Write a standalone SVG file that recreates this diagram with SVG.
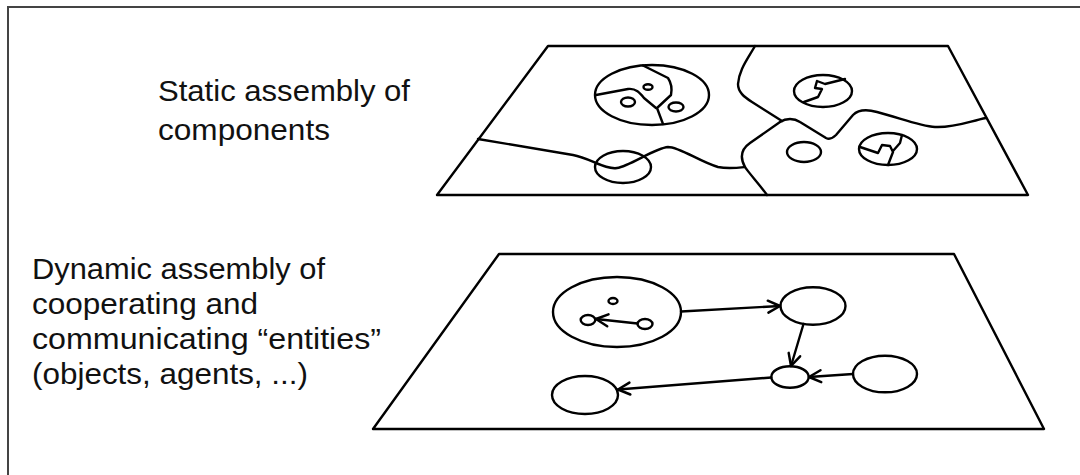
<svg xmlns="http://www.w3.org/2000/svg" width="1080" height="475" viewBox="0 0 1080 475">
<defs>
<style>
.ln{fill:none;stroke:#000;stroke-width:2.4;stroke-linejoin:round;stroke-linecap:round}
.lbl{font-family:"Liberation Sans",Arial,sans-serif;font-size:29.5px;fill:#111}
</style>
<marker id="ah" viewBox="0 0 12 12" refX="11" refY="6" markerWidth="13" markerHeight="13" markerUnits="userSpaceOnUse" orient="auto" overflow="visible">
<path d="M0,0.5 L11,6 L0,11.5" fill="none" stroke="#000" stroke-width="2.3" stroke-linecap="round" stroke-linejoin="round"/>
</marker>
</defs>
<rect width="1080" height="475" fill="#fff"/>
<path d="M8,475 V7 H1080" fill="none" stroke="#444" stroke-width="2"/>

<g id="labels">
<text class="lbl" x="158" y="101" textLength="252" lengthAdjust="spacingAndGlyphs">Static assembly of</text>
<text class="lbl" x="158" y="140" textLength="172" lengthAdjust="spacingAndGlyphs">components</text>
<text class="lbl" x="32" y="279" textLength="293" lengthAdjust="spacingAndGlyphs">Dynamic assembly of</text>
<text class="lbl" x="32" y="314" textLength="226" lengthAdjust="spacingAndGlyphs">cooperating and</text>
<text class="lbl" x="32" y="349" textLength="349" lengthAdjust="spacingAndGlyphs">communicating “entities”</text>
<text class="lbl" x="32" y="384" textLength="276" lengthAdjust="spacingAndGlyphs">(objects, agents, ...)</text>
</g>

<g id="static-plane">
<path class="ln" d="M548,46 L948,46 L1028,195 L437,195 Z"/>
<path class="ln" d="M478,139 L573,155 C590,158 605,170 617,168 C630,166 655,148 668,147 C680,147 700,162 718,167 C728,169 736,168 745,167"/>
<path class="ln" d="M767,195 C760,185 748,172 745,167 C740,158 740,150 750,143 L780,122 C786,118 794,118 800,122 L826,138 C830,140 833,138 836,135 L853,115 C858,110 866,109 877,112 C900,118 920,126 935,127 C955,128 970,121 986,118"/>
<path class="ln" d="M755,46 C747,60 739,70 738,84 C738,92 744,97 752,102 L782,121"/>
</g>

<g id="component-big">
<ellipse class="ln" cx="652" cy="95" rx="57" ry="30"/>
<path class="ln" d="M596,95 L628,89 C636,88 640,93 644,98 L656,108"/>
<path class="ln" d="M643,65.5 L668,78 C672,84 672,90 671,95 L657,108 L663,124"/>
<ellipse class="ln" cx="648" cy="87" rx="4.5" ry="2.7"/>
<ellipse class="ln" cx="628" cy="102" rx="7" ry="4.5"/>
<ellipse class="ln" cx="676" cy="107" rx="7.5" ry="4.5"/>
</g>

<g id="component-bottom">
<ellipse class="ln" cx="623" cy="167" rx="28" ry="16"/>
</g>

<g id="component-topright">
<ellipse class="ln" cx="823" cy="91" rx="29" ry="16"/>
<path class="ln" d="M804,102 L818,97 L822,89 L815,88 L817,81 L825,84 L845,79"/>
</g>

<g id="component-small">
<ellipse class="ln" cx="804" cy="152" rx="17" ry="10"/>
</g>

<g id="component-bottomright">
<ellipse class="ln" cx="888" cy="149" rx="29" ry="16"/>
<path class="ln" d="M860,147 L878,153 L882,145 L890,146 L893,152 L888,165 M893,151 L900,143 L902,135"/>
</g>

<g id="dynamic-plane">
<path class="ln" d="M499,254 L954,254 L1044,429 L373,429 Z"/>
</g>

<g id="entity-big">
<ellipse class="ln" cx="617" cy="312" rx="64" ry="35"/>
<ellipse class="ln" cx="613" cy="301" rx="4.5" ry="3"/>
<ellipse class="ln" cx="588" cy="320" rx="7.3" ry="5"/>
<ellipse class="ln" cx="645" cy="324" rx="7.5" ry="5"/>
</g>
<g id="entity-topright"><ellipse class="ln" cx="813" cy="306" rx="32.5" ry="18.7"/></g>
<g id="entity-center"><ellipse class="ln" cx="790" cy="377" rx="18.7" ry="10.8"/></g>
<g id="entity-right"><ellipse class="ln" cx="885" cy="374" rx="32" ry="18.3"/></g>
<g id="entity-bottomleft"><ellipse class="ln" cx="585" cy="395" rx="33" ry="19"/></g>

<g id="connectors">
<line class="ln" x1="637.5" y1="323.5" x2="596" y2="319" marker-end="url(#ah)"/>
<line class="ln" x1="681" y1="311.5" x2="780" y2="306" marker-end="url(#ah)"/>
<line class="ln" x1="803.5" y1="324" x2="791" y2="366" marker-end="url(#ah)"/>
<line class="ln" x1="853" y1="374" x2="809" y2="377" marker-end="url(#ah)"/>
<line class="ln" x1="771.3" y1="377.5" x2="618" y2="389.5" marker-end="url(#ah)"/>
</g>
</svg>
